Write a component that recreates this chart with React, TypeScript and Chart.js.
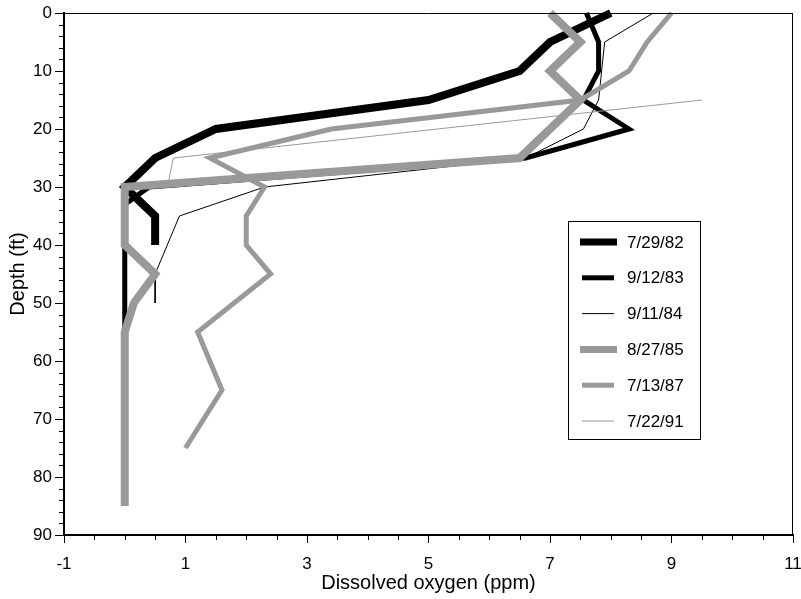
import React, { useEffect, useRef } from "react";
import { Chart, registerables } from "chart.js";
Chart.register(...registerables);

const seriesLabels = ["7/29/82", "9/12/83", "9/11/84", "8/27/85", "7/13/87", "7/22/91"];
const seriesColors = ["#000000", "#000000", "#000000", "#999999", "#999999", "#999999"];
const seriesWidths = [8, 5, 1, 8, 5, 1];

const depth82 = [0, 5, 10, 15, 20, 25, 30, 35, 40];
const do82 = [8.0, 7.0, 6.5, 5.0, 1.5, 0.5, 0, 0.5, 0.5];
const depth83 = [0, 5, 10, 15, 20, 25, 30, 33, 40, 45, 50, 55];
const do83 = [7.6, 7.8, 7.8, 7.55, 8.3, 6.6, 0.4, 0, 0, 0, 0, 0];
const depth84 = [0, 5, 10, 15, 20, 25, 30, 35, 40, 45, 50];
const do84 = [8.7, 7.9, 7.85, 7.8, 7.55, 6.6, 2.3, 0.9, 0.7, 0.5, 0.5];
const depth85 = [0, 5, 10, 15, 20, 25, 30, 35, 40, 45, 50, 55, 60, 65, 70, 75, 80, 85];
const do85 = [7.0, 7.5, 7.0, 7.5, 7.0, 6.5, 0, 0, 0, 0.5, 0.15, 0, 0, 0, 0, 0, 0, 0];
const depth87 = [0, 5, 10, 15, 20, 25, 30, 35, 40, 45, 55, 65, 75];
const do87 = [9.0, 8.6, 8.3, 7.5, 3.4, 1.4, 2.3, 2.0, 2.0, 2.4, 1.2, 1.6, 1.0];
const depth91 = [15, 25, 30];
const do91 = [9.5, 0.8, 0.7];

const seriesDepths = [depth82, depth83, depth84, depth85, depth87, depth91];
const seriesValues = [do82, do83, do84, do85, do87, do91];

const xMin = -1;
const xMax = 11;
const xMajorStep = 2;
const xMinorStep = 0.5;
const yMin = 0;
const yMax = 90;
const yMajorStep = 10;
const yMinorStep = 2;

const FONT = "'Liberation Sans', Arial, Helvetica, sans-serif";

const framePlugin = {
  id: "frameAndLegend",
  afterDraw(chart: any) {
    const { ctx, chartArea, scales } = chart;
    const xs = scales.x;
    const ys = scales.y;
    ctx.save();
    // top and right border
    ctx.strokeStyle = "#000";
    ctx.lineWidth = 1;
    ctx.beginPath();
    ctx.moveTo(chartArea.left, chartArea.top + 0.5);
    ctx.lineTo(chartArea.right, chartArea.top + 0.5);
    ctx.moveTo(chartArea.right - 0.5, chartArea.top);
    ctx.lineTo(chartArea.right - 0.5, chartArea.bottom);
    ctx.stroke();
    // minor ticks
    ctx.lineWidth = 1;
    ctx.beginPath();
    for (let v = xMin; v <= xMax + 1e-9; v += xMinorStep) {
      const r = Math.abs(((v - xMin) / xMajorStep) - Math.round((v - xMin) / xMajorStep));
      if (r < 1e-6) continue;
      const px = Math.round(xs.getPixelForValue(v)) + 0.5;
      ctx.moveTo(px, chartArea.bottom);
      ctx.lineTo(px, chartArea.bottom + 5);
    }
    for (let v = yMin; v <= yMax + 1e-9; v += yMinorStep) {
      if (Math.abs(v % yMajorStep) < 1e-6) continue;
      const py = Math.round(ys.getPixelForValue(v)) + 0.5;
      ctx.moveTo(chartArea.left, py);
      ctx.lineTo(chartArea.left - 5, py);
    }
    ctx.stroke();

    // legend box
    const bx = chartArea.left + 504;
    const by = chartArea.top + 208;
    const bw = 132;
    const bh = 218;
    ctx.fillStyle = "#fff";
    ctx.fillRect(bx, by, bw, bh);
    ctx.strokeStyle = "#000";
    ctx.lineWidth = 1;
    ctx.strokeRect(bx + 0.5, by + 0.5, bw, bh);
    ctx.font = `17px ${FONT}`;
    ctx.textBaseline = "middle";
    ctx.textAlign = "left";
    seriesLabels.forEach((lab, i) => {
      const cy = by + 21 + i * 35.8;
      ctx.strokeStyle = seriesColors[i];
      ctx.lineWidth = seriesWidths[i] === 8 ? 7 : seriesWidths[i];
      ctx.lineCap = "butt";
      ctx.beginPath();
      const x0 = seriesWidths[i] === 8 ? bx + 12 : bx + 14;
      const x1 = seriesWidths[i] === 8 ? bx + 49 : bx + 46;
      ctx.moveTo(x0, cy);
      ctx.lineTo(x1, cy);
      ctx.stroke();
      ctx.fillStyle = "#000";
      ctx.fillText(lab, bx + 59, cy + 1);
    });
    ctx.restore();
  },
};

export default function App() {
  const canvasRef = useRef<HTMLCanvasElement | null>(null);

  useEffect(() => {
    const canvas = canvasRef.current;
    if (!canvas) return;
    const n = seriesLabels.length;
    const datasets = seriesLabels.map((lab, i) => ({
      label: lab,
      data: seriesDepths[i].map((d, j) => ({ x: seriesValues[i][j], y: d })),
      borderColor: seriesColors[i],
      backgroundColor: seriesColors[i],
      borderWidth: seriesWidths[i],
      pointRadius: 0,
      pointHoverRadius: 0,
      fill: false,
      tension: 0,
      borderJoinStyle: "miter" as const,
      borderCapStyle: "butt" as const,
      order: n - i,
      clip: 6,
    }));

    const chart = new Chart(canvas, {
      type: "line",
      data: { datasets },
      options: {
        animation: false,
        responsive: false,
        maintainAspectRatio: false,
        layout: { padding: { left: 0, right: 8, top: 13, bottom: 0 } },
        plugins: {
          legend: { display: false },
          tooltip: { enabled: false },
        },
        scales: {
          x: {
            type: "linear",
            position: "bottom",
            min: xMin,
            max: xMax,
            afterFit: (s: any) => {
              s.height = 64;
              s.paddingLeft = 0;
              s.paddingRight = 0;
            },
            ticks: {
              stepSize: xMajorStep,
              color: "#000",
              font: { family: FONT, size: 17 },
              padding: 11,
              maxRotation: 0,
            },
            grid: {
              drawOnChartArea: false,
              drawTicks: true,
              tickLength: 8,
              color: "#000",
              lineWidth: 1,
            },
            border: { display: true, color: "#000", width: 2 },
            title: {
              display: true,
              text: "Dissolved oxygen (ppm)",
              color: "#000",
              font: { family: FONT, size: 20 },
              padding: { top: 0, bottom: 4 },
            },
          },
          y: {
            type: "linear",
            position: "left",
            min: yMin,
            max: yMax,
            reverse: true,
            afterFit: (s: any) => {
              s.width = 64;
              s.paddingTop = 0;
              s.paddingBottom = 0;
            },
            ticks: {
              stepSize: yMajorStep,
              color: "#000",
              font: { family: FONT, size: 17 },
              padding: 3,
            },
            grid: {
              drawOnChartArea: false,
              drawTicks: true,
              tickLength: 9,
              color: "#000",
              lineWidth: 1,
            },
            border: { display: true, color: "#000", width: 2 },
            title: {
              display: true,
              text: "Depth (ft)",
              color: "#000",
              font: { family: FONT, size: 20 },
              padding: { top: 6, bottom: 0 },
            },
          },
        },
      },
      plugins: [framePlugin],
    });
    return () => chart.destroy();
  }, []);

  return (
    <div style={{ position: "fixed", left: 0, top: 0, width: 801, height: 599, background: "#fff" }}>
      <canvas ref={canvasRef} width={801} height={599} style={{ display: "block", width: 801, height: 599 }} />
    </div>
  );
}
